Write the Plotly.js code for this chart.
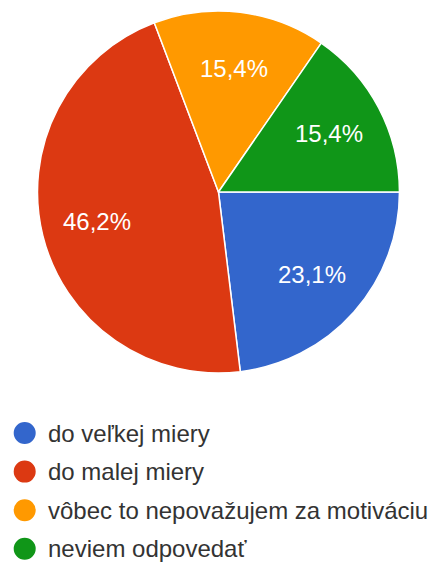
<!DOCTYPE html>
<html><head><meta charset="utf-8">
<script src="https://cdn.plot.ly/plotly-3.0.1.min.js"></script>
<style>html,body{margin:0;padding:0;background:#fff}#chart{width:438px;height:562px}</style>
</head><body><div id="chart"></div>
<script>
const categories = ["do veľkej miery", "do malej miery", "vôbec to nepovažujem za motiváciu", "neviem odpovedať"];
const counts = [3, 6, 2, 2];
const colors = ["#3366cc", "#dc3912", "#ff9900", "#109618"];

const W = 438, H = 562;
const font = "Liberation Sans, Arial, sans-serif";
const dom = {x: [0.0856, 0.912], y: [0.3363, 0.9804]};
const startDeg = 90; // first slice starts at 3 o'clock, clockwise

const pie = {
  type: "pie",
  labels: categories,
  values: counts,
  sort: false,
  direction: "clockwise",
  rotation: startDeg,
  marker: {colors: colors, line: {color: "#ffffff", width: 1.5}},
  textinfo: "none",
  hoverinfo: "label+percent",
  showlegend: false,
  domain: dom
};

// geometry of the pie in pixels (derived from the domain)
const cx = (dom.x[0] + dom.x[1]) / 2 * W;
const cy = (1 - (dom.y[0] + dom.y[1]) / 2) * H;
const R = Math.min((dom.x[1] - dom.x[0]) * W, (dom.y[1] - dom.y[0]) * H) / 2;

const shapes = [];
const annotations = [];

// percentage labels placed along each slice's mid-angle
const total = counts.reduce((a, b) => a + b, 0);
let acc = 0;
counts.forEach((v, i) => {
  const mid = startDeg + (acc + v / 2) / total * 360;
  acc += v;
  const t = mid * Math.PI / 180;
  const px = cx + 0.69 * R * Math.sin(t);
  const py = cy - 0.69 * R * Math.cos(t);
  const pct = (v / total * 100).toFixed(1).replace(".", ",") + "%";
  annotations.push({xref: "paper", yref: "paper", x: px / W, y: 1 - py / H,
    xanchor: "center", yanchor: "middle", text: pct, showarrow: false,
    font: {family: font, size: 24, color: "#ffffff"}});
});

// custom legend with circle markers
const legTop = 433, legStep = 38.6;
categories.forEach((c, i) => {
  const yc = 1 - (legTop + i * legStep) / H;
  shapes.push({type: "circle", xref: "paper", yref: "paper",
    x0: 13.7 / W, x1: 35.7 / W, y0: yc - 11 / H, y1: yc + 11 / H,
    fillcolor: colors[i], line: {width: 0}});
  annotations.push({xref: "paper", yref: "paper", x: 47 / W, y: yc,
    xanchor: "left", yanchor: "middle", text: c, showarrow: false, borderpad: 0,
    font: {family: font, size: 24, color: "#333333"}});
});

Plotly.newPlot("chart", [pie], {
  width: W, height: H,
  margin: {l: 0, r: 0, t: 0, b: 0},
  paper_bgcolor: "#ffffff",
  shapes: shapes,
  annotations: annotations
}, {staticPlot: true});
</script></body></html>
